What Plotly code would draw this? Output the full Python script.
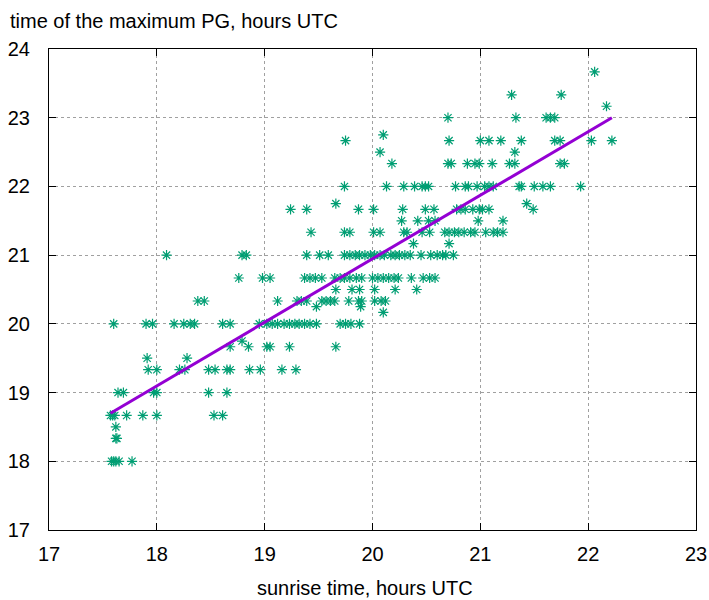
import plotly.graph_objects as go

# Sunrise time (hours UTC) for each day, read row by row (rows = time of maximum PG)
sunrise_utc = [
    17.58, 17.60, 17.62, 17.65, 17.77,                                   # 18.00
    17.62, 17.63,                                                        # 18.33
    17.62,                                                               # 18.50
    17.57, 17.59, 17.61, 17.72, 17.87, 18.00, 18.53, 18.61,              # 18.67
    17.64, 17.69, 17.97, 18.00, 18.48, 18.65,                            # 19.00
    17.92, 18.00, 18.21, 18.26, 18.48, 18.54, 18.65, 18.68, 18.86, 18.96,
    19.16, 19.29,                                                        # 19.33
    17.91, 18.28,                                                        # 19.50
    18.68, 18.85, 19.02, 19.05, 19.23, 19.66,                            # 19.67
    18.79,                                                               # 19.75
    17.60, 17.90, 17.96, 18.16, 18.25, 18.31, 18.35, 18.61, 18.68, 18.95,
    19.02, 19.07, 19.12, 19.18, 19.23, 19.28, 19.32, 19.37, 19.42, 19.48,
    19.70, 19.75, 19.80, 19.88,                                          # 20.00
    20.10,                                                               # 20.17
    19.48, 19.89,                                                        # 20.25
    18.38, 18.44, 19.12, 19.30, 19.34, 19.39, 19.53, 19.57, 19.61, 19.65,
    19.78, 19.87, 19.90, 20.02, 20.08, 20.12,                            # 20.33
    19.66, 19.81, 19.88, 20.02, 20.21, 20.41,                            # 20.50
    18.76, 18.98, 19.05, 19.37, 19.42, 19.47, 19.53, 19.65, 19.70, 19.74,
    19.79, 19.85, 19.90, 20.00, 20.05, 20.10, 20.15, 20.20, 20.24, 20.36,
    20.47, 20.53, 20.58,                                                 # 20.67
    18.09, 18.79, 18.83, 19.39, 19.51, 19.59, 19.74, 19.79, 19.84, 19.88,
    19.93, 19.98, 20.02, 20.07, 20.11, 20.17, 20.21, 20.25, 20.30, 20.35,
    20.45, 20.54, 20.60, 20.65, 20.68, 20.75,                            # 21.00
    20.38, 20.71,                                                        # 21.17
    19.43, 19.74, 19.79, 20.01, 20.07, 20.29, 20.32, 20.46, 20.53, 20.67,
    20.71, 20.76, 20.80, 20.85, 20.91, 20.95, 21.05, 21.12, 21.16, 21.21, # 21.33
    20.27, 20.42, 20.52, 20.58, 20.98, 21.21,                            # 21.50
    19.24, 19.39, 19.87, 20.01, 20.28, 20.49, 20.57, 20.78, 20.82, 20.86,
    20.93, 20.99, 21.02, 21.08, 21.49,                                   # 21.67
    19.66, 21.43,                                                        # 21.75
    19.74, 20.13, 20.29, 20.39, 20.46, 20.49, 20.52, 20.77, 20.86, 20.89,
    20.97, 21.04, 21.08, 21.12, 21.36, 21.38, 21.50, 21.58, 21.65, 21.93, # 22.00
    20.18, 20.70, 20.73, 20.88, 20.95, 20.99, 21.11, 21.27, 21.32, 21.74,
    21.78,                                                               # 22.33
    20.07, 21.32,                                                        # 22.50
    19.75, 20.71, 21.00, 21.08, 21.19, 21.38, 21.69, 21.74, 22.03, 22.22, # 22.67
    20.10,                                                               # 22.75
    20.70, 21.33, 21.61, 21.65, 21.69,                                   # 23.00
    22.17,                                                               # 23.17
    21.29, 21.75,                                                        # 23.33
    22.06,                                                               # 23.67
]

# Time of the maximum PG (hours UTC), same order as sunrise_utc
pg_max_utc = [
    18.0, 18.0, 18.0, 18.0, 18.0,
    18.333, 18.333,
    18.5,
    18.667, 18.667, 18.667, 18.667, 18.667, 18.667, 18.667, 18.667,
    19.0, 19.0, 19.0, 19.0, 19.0, 19.0,
    19.333, 19.333, 19.333, 19.333, 19.333, 19.333, 19.333, 19.333, 19.333, 19.333,
    19.333, 19.333,
    19.5, 19.5,
    19.667, 19.667, 19.667, 19.667, 19.667, 19.667,
    19.75,
    20.0, 20.0, 20.0, 20.0, 20.0, 20.0, 20.0, 20.0, 20.0, 20.0,
    20.0, 20.0, 20.0, 20.0, 20.0, 20.0, 20.0, 20.0, 20.0, 20.0,
    20.0, 20.0, 20.0, 20.0,
    20.167,
    20.25, 20.25,
    20.333, 20.333, 20.333, 20.333, 20.333, 20.333, 20.333, 20.333, 20.333, 20.333,
    20.333, 20.333, 20.333, 20.333, 20.333, 20.333,
    20.5, 20.5, 20.5, 20.5, 20.5, 20.5,
    20.667, 20.667, 20.667, 20.667, 20.667, 20.667, 20.667, 20.667, 20.667, 20.667,
    20.667, 20.667, 20.667, 20.667, 20.667, 20.667, 20.667, 20.667, 20.667, 20.667,
    20.667, 20.667, 20.667,
    21.0, 21.0, 21.0, 21.0, 21.0, 21.0, 21.0, 21.0, 21.0, 21.0,
    21.0, 21.0, 21.0, 21.0, 21.0, 21.0, 21.0, 21.0, 21.0, 21.0,
    21.0, 21.0, 21.0, 21.0, 21.0, 21.0,
    21.167, 21.167,
    21.333, 21.333, 21.333, 21.333, 21.333, 21.333, 21.333, 21.333, 21.333, 21.333,
    21.333, 21.333, 21.333, 21.333, 21.333, 21.333, 21.333, 21.333, 21.333, 21.333,
    21.5, 21.5, 21.5, 21.5, 21.5, 21.5,
    21.667, 21.667, 21.667, 21.667, 21.667, 21.667, 21.667, 21.667, 21.667, 21.667,
    21.667, 21.667, 21.667, 21.667, 21.667,
    21.75, 21.75,
    22.0, 22.0, 22.0, 22.0, 22.0, 22.0, 22.0, 22.0, 22.0, 22.0,
    22.0, 22.0, 22.0, 22.0, 22.0, 22.0, 22.0, 22.0, 22.0, 22.0,
    22.333, 22.333, 22.333, 22.333, 22.333, 22.333, 22.333, 22.333, 22.333, 22.333,
    22.333,
    22.5, 22.5,
    22.667, 22.667, 22.667, 22.667, 22.667, 22.667, 22.667, 22.667, 22.667, 22.667,
    22.75,
    23.0, 23.0, 23.0, 23.0, 23.0,
    23.167,
    23.333, 23.333,
    23.667,
]

# Linear fit line (end points of the regression over the data range)
fit_x = [17.57, 22.22]
fit_y = [18.70, 23.00]

x_ticks = [17, 18, 19, 20, 21, 22, 23]
y_ticks = [17, 18, 19, 20, 21, 22, 23, 24]

y_title = "time of the maximum PG, hours UTC"
x_title = "sunrise time, hours UTC"

FONT = "Liberation Sans, Arial, Helvetica, sans-serif"

fig = go.Figure()
fig.add_trace(go.Scatter(
    x=sunrise_utc, y=pg_max_utc, mode="markers",
    marker=dict(symbol="asterisk-open", size=8.5, color="#009e73",
                line=dict(color="#009e73", width=1.2)),
    hoverinfo="x+y",
))
fig.add_trace(go.Scatter(
    x=fit_x, y=fit_y, mode="lines",
    line=dict(color="#9400d3", width=3),
))

axis_common = dict(
    ticks="inside", ticklen=7, tickwidth=1, tickcolor="black",
    showline=True, linecolor="black", linewidth=1, mirror="ticks",
    showgrid=True, gridcolor="#a0a0a0", gridwidth=1, griddash="dot",
    zeroline=False, automargin=False,
    tickfont=dict(family=FONT, size=20, color="black"),
)

fig.update_layout(
    width=709, height=600,
    margin=dict(l=49, r=13, t=49, b=70),
    paper_bgcolor="white", plot_bgcolor="white",
    font=dict(family=FONT, size=20, color="black"),
    showlegend=False,
    xaxis=dict(range=[17, 23], tickvals=x_ticks, ticklabelstandoff=6, **axis_common),
    yaxis=dict(range=[17, 24], tickvals=y_ticks, ticklabelstandoff=14, **axis_common),
    annotations=[
        dict(text=y_title, xref="paper", yref="paper", x=0, y=1, xanchor="left",
             yanchor="middle", xshift=-41, yshift=28, showarrow=False,
             font=dict(family=FONT, size=20, color="black")),
        dict(text=x_title, xref="paper", yref="paper", x=0.489, y=0, xanchor="center",
             yanchor="middle", yshift=-58, showarrow=False,
             font=dict(family=FONT, size=20, color="black")),
    ],
)

# Remove the default page margin so the 709x600 figure fills the window exactly
fig.write_html("out.html", config={"displayModeBar": False},
               post_script="document.body.style.margin='0';")
